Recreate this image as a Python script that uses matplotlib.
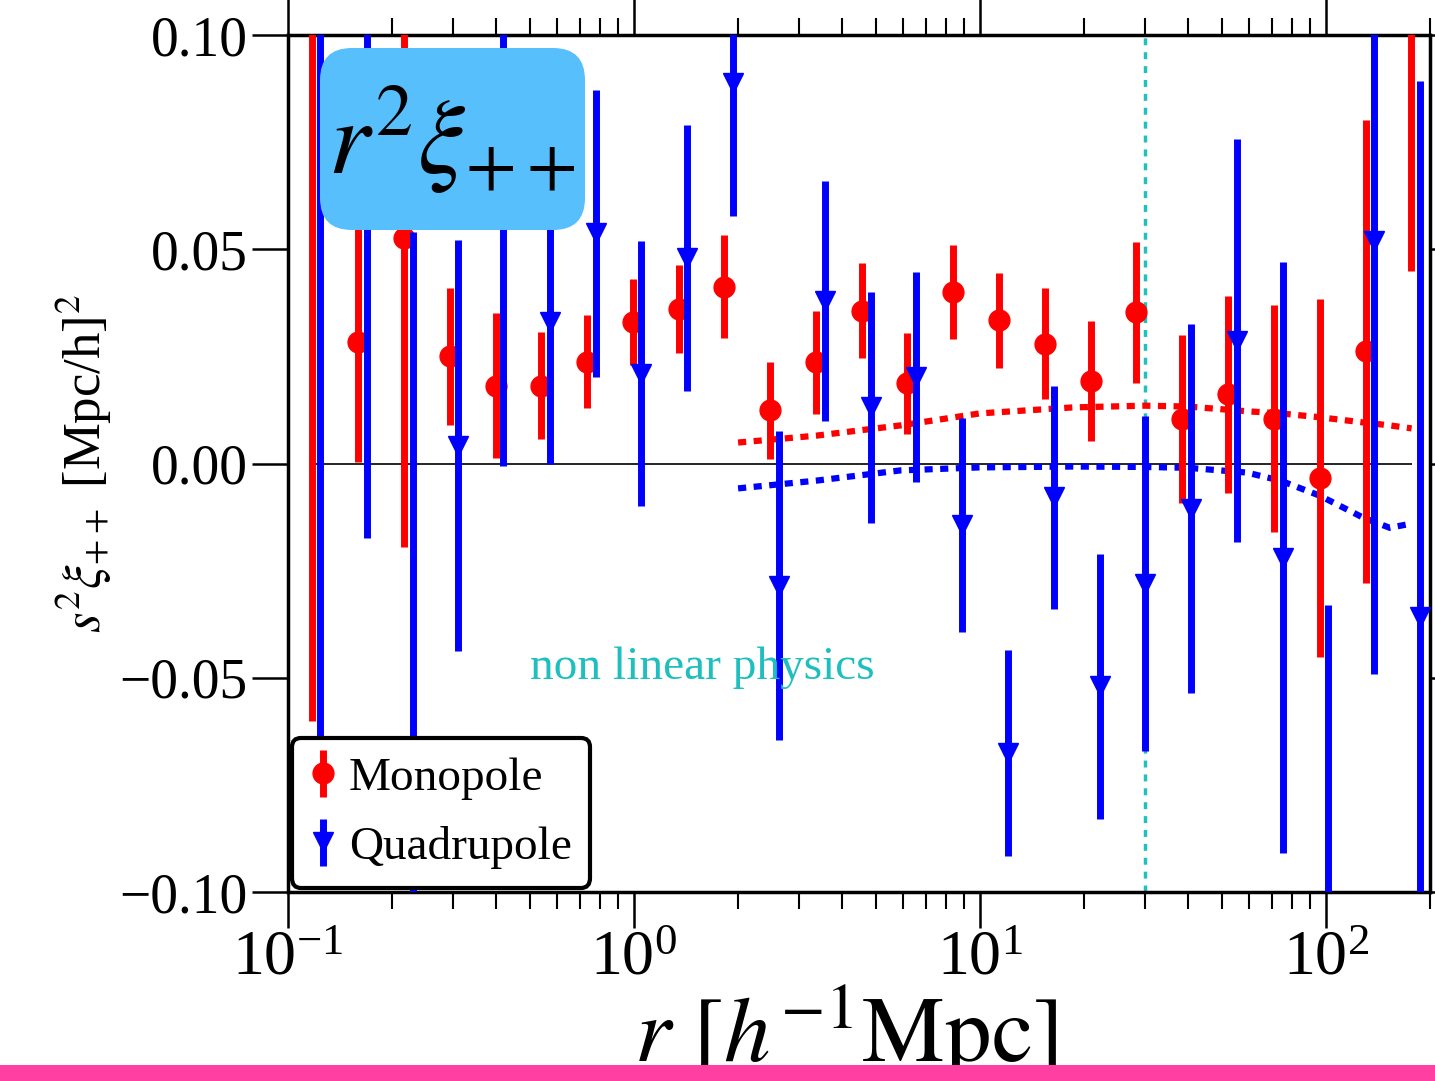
import matplotlib
matplotlib.use("Agg")
import matplotlib.pyplot as plt
from matplotlib.patches import FancyBboxPatch, Rectangle
from matplotlib.ticker import FuncFormatter, LogLocator, NullFormatter

plt.rcParams['font.family'] = 'serif'
plt.rcParams['font.serif'] = ['Liberation Serif', 'DejaVu Serif']
plt.rcParams['mathtext.fontset'] = 'stix'

# monopole points (red circles)
r_mono = [0.1177, 0.1594, 0.2164, 0.2938, 0.3992, 0.5385, 0.7315, 0.9933, 1.349, 1.820,
          2.472, 3.357, 4.560, 6.152, 8.356, 11.35, 15.41, 20.93, 28.24, 38.35,
          52.09, 70.74, 96.1, 130.5, 176.1]
mono = [0.12, 0.0283, 0.0526, 0.025, 0.0182, 0.0182, 0.0238, 0.033, 0.036, 0.0413,
        0.0124, 0.0236, 0.0357, 0.0187, 0.040, 0.0334, 0.028, 0.0192, 0.0353, 0.0103,
        0.0162, 0.0105, -0.0033, 0.0262, 0.13]
mono_err = [0.18, 0.028, 0.072, 0.016, 0.017, 0.0125, 0.0108, 0.010, 0.0103, 0.012,
            0.0114, 0.012, 0.011, 0.0117, 0.011, 0.011, 0.013, 0.014, 0.0165, 0.0196,
            0.023, 0.0265, 0.0418, 0.054, 0.085]

# quadrupole points (blue triangles)
r_quad = [0.1237, 0.1691, 0.2298, 0.3100, 0.4181, 0.5717, 0.7766, 1.048, 1.423, 1.932,
          2.625, 3.565, 4.842, 6.531, 8.872, 12.05, 16.37, 22.23, 29.99, 40.73,
          55.32, 75.14, 101.3, 137.6, 186.9]
quad = [0.11, 0.075, -0.085, 0.0042, 0.075, 0.033, 0.0537, 0.021, 0.048, 0.0888,
        -0.0285, 0.038, 0.0131, 0.0203, -0.0143, -0.0675, -0.0079, -0.052, -0.028, -0.0105,
        0.0287, -0.022, -0.105, 0.052, -0.0358]
quad_err = [0.19, 0.0923, 0.139, 0.048, 0.0755, 0.033, 0.0335, 0.031, 0.031, 0.031,
            0.036, 0.028, 0.027, 0.0245, 0.025, 0.024, 0.026, 0.031, 0.039, 0.043,
            0.047, 0.069, 0.072, 0.101, 0.125]

# model curves
r_model = [2.0, 3.36, 5.9, 10, 18.6, 30, 40, 59, 74, 96, 128, 153, 177]
mono_model = [0.0049, 0.0065, 0.0089, 0.0117, 0.0131, 0.0135, 0.0133, 0.0122, 0.0117,
              0.0108, 0.0096, 0.0089, 0.0082]
quad_model = [-0.0058, -0.0040, -0.0016, -0.0009, -0.0007, -0.0008, -0.0010, -0.0021,
              -0.0040, -0.0075, -0.0126, -0.0150, -0.0140]

r_nonlin = 30

fig = plt.figure(figsize=(14.35, 10.81), dpi=100)
ax = fig.add_axes([0.2007, 0.1748, 0.7958, 0.7928])

ax.hlines(0, 0.115, 178, color='black', lw=1.2, zorder=1)
ax.axvline(r_nonlin, color='#20C0C0', lw=2.5, dashes=(2, 2), zorder=1)

ax.plot(r_model, mono_model, color='red', lw=4.5, dashes=(1.3, 1.2), zorder=2)
ax.plot(r_model, quad_model, color='blue', lw=4.5, dashes=(1.3, 1.2), zorder=2)

ax.errorbar(r_mono, mono, yerr=mono_err, fmt='o', color='red', ms=15, elinewidth=5,
            capsize=0, zorder=3, label='Monopole')
ax.errorbar(r_quad, quad, yerr=quad_err, fmt='v', color='blue', ms=15, elinewidth=5,
            capsize=0, zorder=4, label='Quadrupole')

ax.text(0.5, -0.0502, 'non linear physics', color='#1FBFBF', fontsize=34, zorder=5)

ax.set_xscale('log')
ax.set_xlim(0.1, 200)
ax.set_ylim(-0.1, 0.1)
ax.set_yticks([-0.1, -0.05, 0.0, 0.05, 0.1])
ax.yaxis.set_major_formatter(FuncFormatter(lambda v, p: f"{round(v, 3):.2f}".replace('-', '\u2212')))
ax.xaxis.set_major_locator(LogLocator(base=10, numticks=100))
ax.xaxis.set_minor_locator(LogLocator(base=10, subs=range(2, 10), numticks=100))
ax.xaxis.set_minor_formatter(NullFormatter())

ax.tick_params(which='major', direction='out', length=26, width=1.8, top=True, right=True)
ax.tick_params(which='minor', direction='out', length=12, width=1.5, top=True, right=True)
ax.tick_params(axis='y', labelsize=40, pad=3)
ax.tick_params(axis='x', labelsize=46, pad=2)
for s in ax.spines.values():
    s.set_linewidth(2.5)

ax.set_ylabel(r'$s^2\xi_{++}$ [Mpc/h]$^2$', fontsize=38)
ax.yaxis.set_label_coords(-0.152, 0.5)
ax.set_xlabel(r'$r\ [h^{-1}\mathrm{Mpc}]$', fontsize=67)
ax.xaxis.set_label_coords(0.488, -0.105)

leg = ax.legend(loc='lower left', bbox_to_anchor=(0.0035, 0.005), borderaxespad=0,
                fontsize=34, handlelength=0.5, handletextpad=0.3, labelspacing=0.55,
                borderpad=0.4, fancybox=True, framealpha=1, edgecolor='black')
leg.get_frame().set_linewidth(3)
leg.set_zorder(6)

# blue label box in the upper left (inch coordinates keep corners round)
box = FancyBboxPatch((3.20, 8.51), 2.65, 1.82, boxstyle='round,pad=0,rounding_size=0.32',
                     transform=fig.dpi_scale_trans, facecolor='#57BFFB', edgecolor='none',
                     zorder=7)
fig.add_artist(box)
fig.text(3.28, 9.08, r'$r^2\xi_{++}$', fontsize=76, transform=fig.dpi_scale_trans,
         va='baseline', ha='left', zorder=8)

# pink strip along the bottom
fig.add_artist(Rectangle((0, 0), 1, 16 / 1081, transform=fig.transFigure,
                         facecolor='#FF40A2', edgecolor='none', zorder=10))

fig.savefig('out.png', dpi=100)
